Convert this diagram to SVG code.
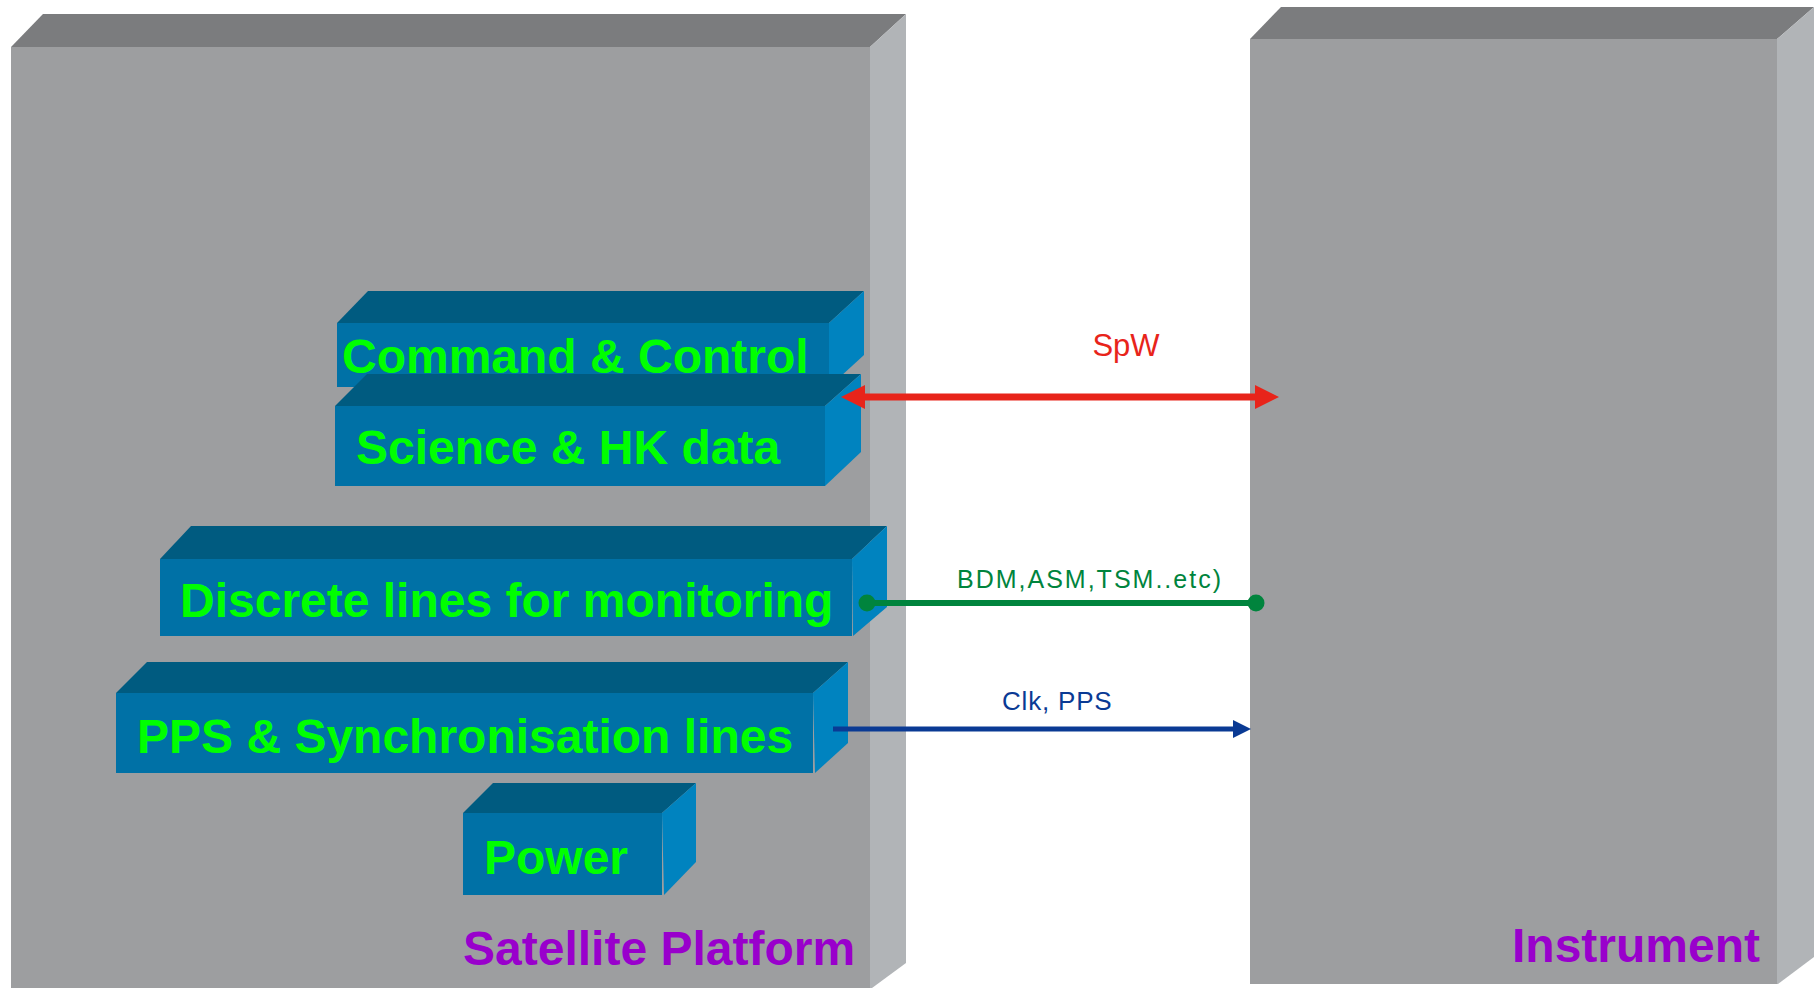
<svg xmlns="http://www.w3.org/2000/svg" width="1818" height="988" viewBox="0 0 1818 988">
  <style>
    .slab-top { fill: #7b7c7e; }
    .slab-front { fill: #9d9ea0; }
    .slab-side { fill: #b1b4b7; }
    .box-top { fill: #005b80; }
    .box-front { fill: #0071a6; }
    .box-side { fill: #0083bf; }
    .box-label { font-family: "Liberation Sans", Arial, sans-serif; font-weight: bold; font-size: 48px; fill: #00ff00; }
    .unit-label { font-family: "Liberation Sans", Arial, sans-serif; font-weight: bold; font-size: 48px; fill: #9900cc; }
    .link-label { font-family: "Liberation Sans", Arial, sans-serif; }
  </style>
  <defs>
    <!-- heads start at the line end and point forward -->
    <marker id="red-head" viewBox="0 0 24 24" refX="0" refY="12" markerWidth="24" markerHeight="24" markerUnits="userSpaceOnUse" orient="auto-start-reverse">
      <path d="M0,0 L24,12 L0,24 Z" fill="#e8241a"/>
    </marker>
    <marker id="blue-head" viewBox="0 0 18 18" refX="0" refY="9" markerWidth="18" markerHeight="18" markerUnits="userSpaceOnUse" orient="auto">
      <path d="M0,0 L18,9 L0,18 Z" fill="#0a3a94"/>
    </marker>
  </defs>

  <rect width="1818" height="988" fill="#ffffff"/>

  <!-- Satellite platform slab -->
  <g id="satellite-platform">
    <polygon class="slab-top" points="11,47 43,14 906,14 870,47"/>
    <rect class="slab-front" x="11" y="47" width="859" height="941"/>
    <polygon class="slab-side" points="870,47 906,14 906,963 872,988 870,988"/>
    <text class="unit-label" x="463" y="965">Satellite Platform</text>
  </g>

  <!-- Interface blocks on the platform -->
  <g id="command-control">
    <polygon class="box-top" points="337,323 368,291 864,291 829,323"/>
    <rect class="box-front" x="337" y="323" width="492" height="64"/>
    <polygon class="box-side" points="829,323 864,291 864,355 829,387"/>
    <text class="box-label" x="342" y="373">Command &amp; Control</text>
  </g>

  <g id="science-hk">
    <polygon class="box-top" points="335,406 367,374 861,374 825,406"/>
    <rect class="box-front" x="335" y="406" width="490" height="80"/>
    <polygon class="box-side" points="825,406 861,374 861,452 825,486"/>
    <text class="box-label" x="356" y="464">Science &amp; HK data</text>
  </g>

  <g id="discrete-lines">
    <polygon class="box-top" points="160,559 191,526 887,526 852,559"/>
    <rect class="box-front" x="160" y="559" width="692" height="77"/>
    <polygon class="box-side" points="852,559 887,526 887,607 853,636"/>
    <text class="box-label" x="180" y="617">Discrete lines for monitoring</text>
  </g>

  <g id="pps-sync">
    <polygon class="box-top" points="116,693 147,662 848,662 813,693"/>
    <rect class="box-front" x="116" y="693" width="697" height="80"/>
    <polygon class="box-side" points="813,693 848,662 848,743 815,773"/>
    <text class="box-label" x="137" y="753">PPS &amp; Synchronisation lines</text>
  </g>

  <g id="power">
    <polygon class="box-top" points="463,813 493,783 696,783 662,813"/>
    <rect class="box-front" x="463" y="813" width="199" height="82"/>
    <polygon class="box-side" points="662,813 696,783 696,862 664,895"/>
    <text class="box-label" x="484" y="874" font-size="47">Power</text>
  </g>

  <!-- Instrument slab -->
  <g id="instrument">
    <polygon class="slab-top" points="1250,39 1281,7 1814,7 1777,39"/>
    <rect class="slab-front" x="1250" y="39" width="527" height="945"/>
    <polygon class="slab-side" points="1777,39 1814,7 1814,957 1778,984 1777,984"/>
    <text class="unit-label" x="1512" y="962">Instrument</text>
  </g>

  <!-- Links between platform and instrument -->
  <g id="connectors">
    <line x1="865" y1="397" x2="1255" y2="397" stroke="#e8241a" stroke-width="7" marker-start="url(#red-head)" marker-end="url(#red-head)"/>
    <text class="link-label" x="1126" y="356" text-anchor="middle" font-size="31" fill="#e8241a">SpW</text>

    <line x1="867" y1="603" x2="1256" y2="603" stroke="#00843d" stroke-width="6"/>
    <circle cx="867" cy="603" r="8.5" fill="#00843d"/>
    <circle cx="1256" cy="603" r="8.5" fill="#00843d"/>
    <text class="link-label" x="957" y="588" font-size="25" letter-spacing="2" fill="#00843d">BDM,ASM,TSM..etc)</text>

    <line x1="833" y1="729" x2="1233" y2="729" stroke="#0a3a94" stroke-width="5" marker-end="url(#blue-head)"/>
    <text class="link-label" x="1002" y="710" font-size="26" letter-spacing="0.8" fill="#0a3a94">Clk, PPS</text>
  </g>
</svg>
